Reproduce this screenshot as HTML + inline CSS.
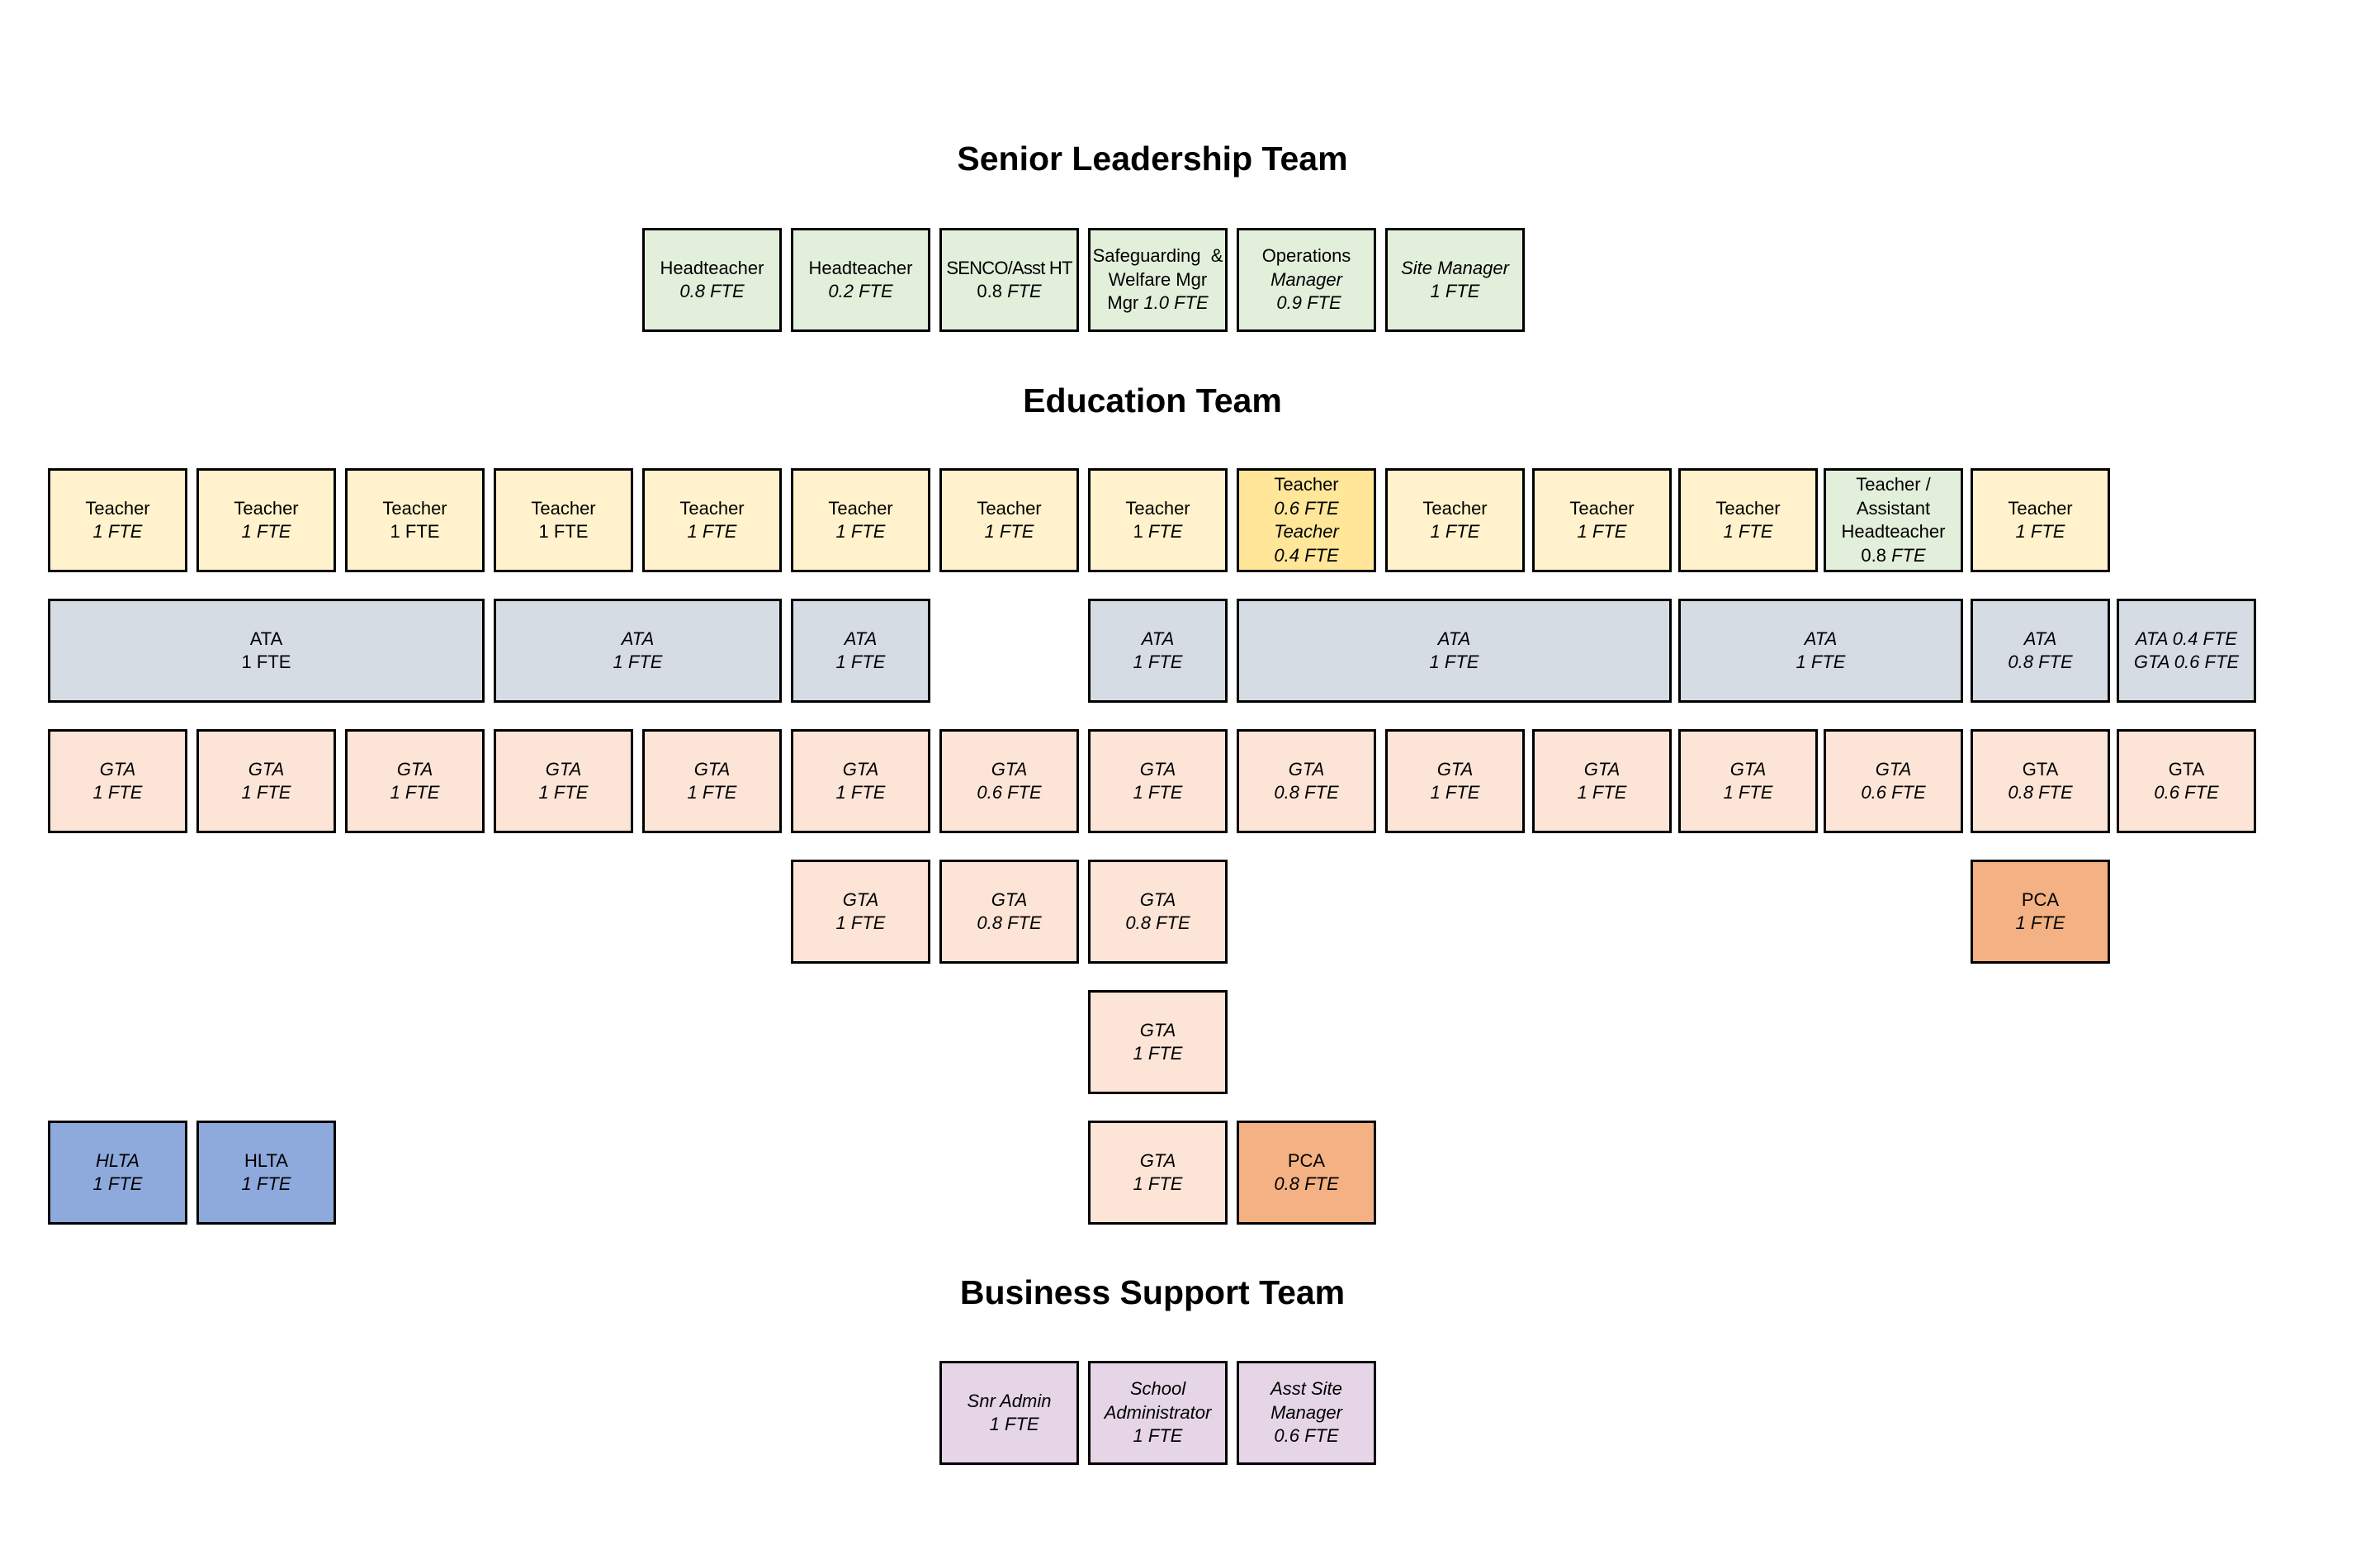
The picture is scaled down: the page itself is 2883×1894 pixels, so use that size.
<!DOCTYPE html>
<html>
<head>
<meta charset="utf-8">
<style>
  html, body { margin:0; padding:0; background:#fff; }
  body { width:2883px; height:1894px; position:relative; overflow:hidden;
         font-family:"Liberation Sans", Arial, sans-serif; color:#000; }
  .t { position:absolute; left:0; width:2792px; text-align:center;
       font-weight:bold; font-size:41px; line-height:41px; white-space:nowrap; }
  .b { position:absolute; box-sizing:border-box; width:169px; height:126px;
       border:3px solid #000; display:flex; flex-direction:column;
       justify-content:center; align-items:center; text-align:center;
       font-size:22px; line-height:28.5px; white-space:nowrap; }
  .b div { white-space:pre; }
  i { font-style:italic; }
  .g { background:#E2EFDA; }
  .y { background:#FFF2CC; }
  .yh { background:#FFE699; }
  .a { background:#D6DCE4; }
  .o { background:#FCE4D6; }
  .p { background:#F4B183; }
  .h { background:#8EA9DB; }
  .m { background:#E5D5E7; }
</style>
</head>
<body>

<div class="t" style="top:172px;">Senior Leadership Team</div>
<div class="t" style="top:465px;">Education Team</div>
<div class="t" style="top:1545px;">Business Support Team</div>

<!-- SLT row -->
<div class="b g" style="left:778px;top:276px;"><div>Headteacher</div><div><i>0.8 FTE</i></div></div>
<div class="b g" style="left:958px;top:276px;"><div>Headteacher</div><div><i>0.2 FTE</i></div></div>
<div class="b g" style="left:1138px;top:276px;"><div style="letter-spacing:-0.8px;">SENCO/Asst HT</div><div>0.8 <i>FTE</i></div></div>
<div class="b g" style="left:1318px;top:276px;"><div>Safeguarding  &amp;</div><div>Welfare Mgr</div><div>Mgr <i>1.0 FTE</i></div></div>
<div class="b g" style="left:1498px;top:276px;"><div>Operations</div><div><i>Manager</i></div><div><i> 0.9 FTE</i></div></div>
<div class="b g" style="left:1678px;top:276px;"><div><i>Site Manager</i></div><div><i>1 FTE</i></div></div>

<!-- Teacher row -->
<div class="b y" style="left:58px;top:567px;"><div>Teacher</div><div><i>1 FTE</i></div></div>
<div class="b y" style="left:238px;top:567px;"><div>Teacher</div><div><i>1 FTE</i></div></div>
<div class="b y" style="left:418px;top:567px;"><div>Teacher</div><div>1 FTE</div></div>
<div class="b y" style="left:598px;top:567px;"><div>Teacher</div><div>1 FTE</div></div>
<div class="b y" style="left:778px;top:567px;"><div>Teacher</div><div><i>1 FTE</i></div></div>
<div class="b y" style="left:958px;top:567px;"><div>Teacher</div><div><i>1 FTE</i></div></div>
<div class="b y" style="left:1138px;top:567px;"><div>Teacher</div><div><i>1 FTE</i></div></div>
<div class="b y" style="left:1318px;top:567px;"><div>Teacher</div><div>1 <i>FTE</i></div></div>
<div class="b yh" style="left:1498px;top:567px;"><div>Teacher</div><div><i>0.6 FTE</i></div><div><i>Teacher</i></div><div><i>0.4 FTE</i></div></div>
<div class="b y" style="left:1678px;top:567px;"><div>Teacher</div><div><i>1 FTE</i></div></div>
<div class="b y" style="left:1856px;top:567px;"><div>Teacher</div><div><i>1 FTE</i></div></div>
<div class="b y" style="left:2033px;top:567px;"><div>Teacher</div><div><i>1 FTE</i></div></div>
<div class="b g" style="left:2209px;top:567px;"><div>Teacher /</div><div>Assistant</div><div>Headteacher</div><div>0.8 <i>FTE</i></div></div>
<div class="b y" style="left:2387px;top:567px;"><div>Teacher</div><div><i>1 FTE</i></div></div>

<!-- ATA row -->
<div class="b a" style="left:58px;top:725px;width:529px;"><div>ATA</div><div>1 FTE</div></div>
<div class="b a" style="left:598px;top:725px;width:349px;"><div><i>ATA</i></div><div><i>1 FTE</i></div></div>
<div class="b a" style="left:958px;top:725px;"><div><i>ATA</i></div><div><i>1 FTE</i></div></div>
<div class="b a" style="left:1318px;top:725px;"><div><i>ATA</i></div><div><i>1 FTE</i></div></div>
<div class="b a" style="left:1498px;top:725px;width:527px;"><div><i>ATA</i></div><div><i>1 FTE</i></div></div>
<div class="b a" style="left:2033px;top:725px;width:345px;"><div><i>ATA</i></div><div><i>1 FTE</i></div></div>
<div class="b a" style="left:2387px;top:725px;"><div><i>ATA</i></div><div><i>0.8 FTE</i></div></div>
<div class="b a" style="left:2564px;top:725px;"><div><i>ATA 0.4 FTE</i></div><div><i>GTA 0.6 FTE</i></div></div>

<!-- GTA row -->
<div class="b o" style="left:58px;top:883px;"><div><i>GTA</i></div><div><i>1 FTE</i></div></div>
<div class="b o" style="left:238px;top:883px;"><div><i>GTA</i></div><div><i>1 FTE</i></div></div>
<div class="b o" style="left:418px;top:883px;"><div><i>GTA</i></div><div><i>1 FTE</i></div></div>
<div class="b o" style="left:598px;top:883px;"><div><i>GTA</i></div><div><i>1 FTE</i></div></div>
<div class="b o" style="left:778px;top:883px;"><div><i>GTA</i></div><div><i>1 FTE</i></div></div>
<div class="b o" style="left:958px;top:883px;"><div><i>GTA</i></div><div><i>1 FTE</i></div></div>
<div class="b o" style="left:1138px;top:883px;"><div><i>GTA</i></div><div><i>0.6 FTE</i></div></div>
<div class="b o" style="left:1318px;top:883px;"><div><i>GTA</i></div><div><i>1 FTE</i></div></div>
<div class="b o" style="left:1498px;top:883px;"><div><i>GTA</i></div><div><i>0.8 FTE</i></div></div>
<div class="b o" style="left:1678px;top:883px;"><div><i>GTA</i></div><div><i>1 FTE</i></div></div>
<div class="b o" style="left:1856px;top:883px;"><div><i>GTA</i></div><div><i>1 FTE</i></div></div>
<div class="b o" style="left:2033px;top:883px;"><div><i>GTA</i></div><div><i>1 FTE</i></div></div>
<div class="b o" style="left:2209px;top:883px;"><div><i>GTA</i></div><div><i>0.6 FTE</i></div></div>
<div class="b o" style="left:2387px;top:883px;"><div>GTA</div><div><i>0.8 FTE</i></div></div>
<div class="b o" style="left:2564px;top:883px;"><div>GTA</div><div><i>0.6 FTE</i></div></div>

<!-- Row 5 -->
<div class="b o" style="left:958px;top:1041px;"><div><i>GTA</i></div><div><i>1 FTE</i></div></div>
<div class="b o" style="left:1138px;top:1041px;"><div><i>GTA</i></div><div><i>0.8 FTE</i></div></div>
<div class="b o" style="left:1318px;top:1041px;"><div><i>GTA</i></div><div><i>0.8 FTE</i></div></div>
<div class="b p" style="left:2387px;top:1041px;"><div>PCA</div><div><i>1 FTE</i></div></div>

<!-- Row 6 -->
<div class="b o" style="left:1318px;top:1199px;"><div><i>GTA</i></div><div><i>1 FTE</i></div></div>

<!-- Row 7 -->
<div class="b h" style="left:58px;top:1357px;"><div><i>HLTA</i></div><div><i>1 FTE</i></div></div>
<div class="b h" style="left:238px;top:1357px;"><div>HLTA</div><div><i>1 FTE</i></div></div>
<div class="b o" style="left:1318px;top:1357px;"><div><i>GTA</i></div><div><i>1 FTE</i></div></div>
<div class="b p" style="left:1498px;top:1357px;"><div>PCA</div><div><i>0.8 FTE</i></div></div>

<!-- Business row -->
<div class="b m" style="left:1138px;top:1648px;"><div><i>Snr Admin</i></div><div><i>  1 FTE</i></div></div>
<div class="b m" style="left:1318px;top:1648px;"><div><i>School</i></div><div><i>Administrator</i></div><div><i>1 FTE</i></div></div>
<div class="b m" style="left:1498px;top:1648px;"><div><i>Asst Site</i></div><div><i>Manager</i></div><div><i>0.6 FTE</i></div></div>

</body>
</html>
